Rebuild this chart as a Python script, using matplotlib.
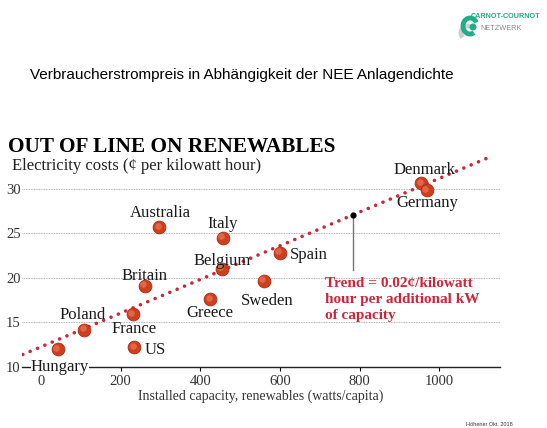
import matplotlib.pyplot as plt
from matplotlib.patches import Arc, Circle
from matplotlib.transforms import offset_copy

plt.rcParams["font.family"] = ["Liberation Serif", "DejaVu Serif"]

# data
countries = ["Hungary", "Poland", "France", "US", "Britain", "Australia", "Greece",
             "Belgium", "Italy", "Sweden", "Spain", "Denmark", "Germany"]
capacity = [42, 109, 230, 234, 260, 297, 425, 454, 457, 559, 600, 955, 969]
cost = [12.0, 14.2, 15.9, 12.2, 19.1, 25.7, 17.6, 21.0, 24.5, 19.7, 22.8, 30.6, 29.8]

trend_x = [-46, 1135]
trend_y = [11.4, 33.7]
callout_x = 783
callout_y = [27.1, 20.9]

x_ticks = [0, 200, 400, 600, 800, 1000]
y_ticks = [10, 15, 20, 25, 30]

# label placement: (dx px, dy px, ha)
label_pos = {
    "Hungary": (2, -22, "center"), "Poland": (-2, 11, "center"),
    "France": (1, -19, "center"), "US": (10, -7, "left"),
    "Britain": (0, 6, "center"), "Australia": (1, 10, "center"),
    "Greece": (0, -18, "center"), "Belgium": (0, 4, "center"),
    "Italy": (0, 10, "center"), "Sweden": (4, -24, "center"),
    "Spain": (10, -6, "left"), "Denmark": (3, 9, "center"),
    "Germany": (1, -17, "center"),
}

W, H = 547, 428
fig = plt.figure(figsize=(W / 100, H / 100), dpi=100)
ax = fig.add_axes([22 / W, (H - 367) / H, 478 / W, (367 - 148.6) / H])

red = "#c8283a"
ax.plot(trend_x, trend_y, color=red, lw=2.6, linestyle=(0, (0.01, 2.2)),
        dash_capstyle="round", zorder=2)
ax.plot([callout_x, callout_x], callout_y, color="#777777", lw=1, zorder=2)
ax.scatter([callout_x], [callout_y[0]], s=12, color="black", zorder=4)

ax.scatter(capacity, cost, s=85, color="#cf3f1e", edgecolors="#a8301a",
           linewidths=0.6, zorder=3)
hl = offset_copy(ax.transData, fig=fig, x=-1.5, y=1.5, units="dots")
ax.scatter(capacity, cost, s=22, color="#e8714f", linewidths=0, zorder=3,
           transform=hl, alpha=0.8)

for name, x, y in zip(countries, capacity, cost):
    dx, dy, ha = label_pos[name]
    bbox = dict(facecolor="white", edgecolor="none", pad=0) if name == "Hungary" else None
    ax.annotate(name, (x, y), xytext=(dx, dy), textcoords="offset pixels",
                ha=ha, va="baseline", fontsize=12, color="#1a1a1a", zorder=5,
                bbox=bbox)

ax.text(714, 20.1, "Trend = 0.02\u00a2/kilowatt\nhour per additional kW\nof capacity",
        color=red, fontsize=11, fontweight="bold", va="top", ha="left",
        linespacing=1.3, zorder=5)

ax.set_xlim(-48, 1153)
ax.set_ylim(10, 34.5)
ax.set_xticks(x_ticks)
ax.set_yticks(y_ticks)
ax.tick_params(axis="y", length=0, pad=1, labelsize=10.5, labelcolor="#333333")
ax.tick_params(axis="x", length=3, width=0.8, direction="out", pad=3,
               labelsize=10.5, labelcolor="#333333")
ax.yaxis.grid(True, linestyle=(0, (1, 1)), color="#999999", lw=0.6)
ax.set_axisbelow(True)
for s in ["top", "right", "left"]:
    ax.spines[s].set_visible(False)
ax.spines["bottom"].set_linewidth(1.0)
ax.spines["bottom"].set_color("#222222")
ax.set_xlabel("Installed capacity, renewables (watts/capita)", fontsize=10,
              color="#333333", labelpad=1)

# headings
fig.text(8 / W, (H - 152) / H, "OUT OF LINE ON RENEWABLES", fontsize=15.3,
         fontweight="bold", va="baseline", ha="left")
fig.text(12 / W, (H - 170) / H, "Electricity costs (\u00a2 per kilowatt hour)",
         fontsize=12, va="baseline", ha="left", color="#222222")
fig.text(30 / W, (H - 75) / H,
         "Verbraucherstrompreis in Abh\u00e4ngigkeit der NEE Anlagendichte",
         fontsize=11, family="Liberation Sans", va="center", ha="left")
fig.text(466 / W, (H - 425) / H, "H\u00f6hener Okt. 2018", fontsize=4,
         family="Liberation Sans", va="center", ha="left", color="#333333")

# logo
fig.text(471 / W, (H - 16) / H, "CARNOT-COURNOT", fontsize=5.2, fontweight="bold",
         family="Liberation Sans", color="#1fae86", va="center", ha="left")
fig.text(480 / W, (H - 28) / H, "NETZWERK", fontsize=5.3,
         family="Liberation Sans", color="#8a8a8a", va="center", ha="left")
lax = fig.add_axes([0, 0, 1, 1], zorder=-1)
lax.set_xlim(0, W)
lax.set_ylim(H, 0)
lax.axis("off")
lax.add_patch(Arc((468, 33), 14, 14, theta1=140, theta2=330, lw=3.5, color="#cfcfcf"))
lax.add_patch(Arc((470, 26), 14, 16, theta1=60, theta2=330, lw=3.5, color="#1fae86"))
lax.add_patch(Circle((473, 27), 2.8, color="#1fae86"))

fig.savefig("out.png", dpi=100)
